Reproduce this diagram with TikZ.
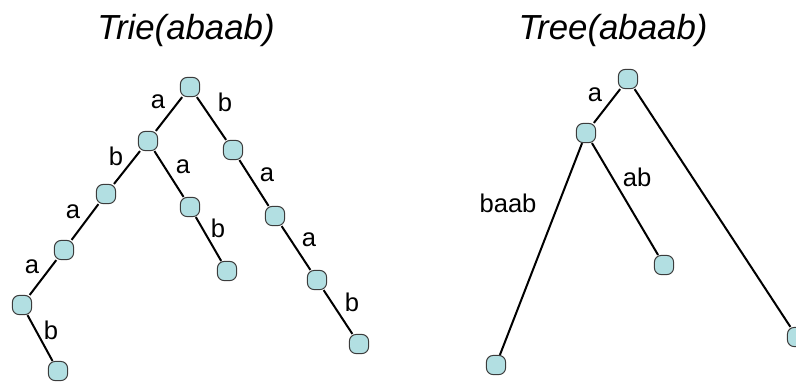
\documentclass[tikz,border=0pt]{standalone}
\usepackage{fontspec}
\setmainfont{Liberation Sans}
\usepackage{tikz}
\usetikzlibrary{positioning}
\definecolor{nodefill}{RGB}{178,223,226}
\definecolor{nodeline}{RGB}{60,60,60}

\begin{document}
\begin{tikzpicture}[
    x=0.5pt, y=-0.5pt,
    vtx/.style={draw=nodeline, fill=nodefill, line width=0.5pt, rounded corners=3.4pt, minimum size=9.6pt, inner sep=0pt},
    edge/.style={line width=1pt, black},
    lbl/.style={font=\fontsize{12.8}{14}\selectfont, inner sep=0pt},
    ttl/.style={font=\fontsize{17.4}{20}\selectfont\itshape, inner sep=0pt}
]
    \useasboundingbox (0,0) rectangle (796,388);

    % titles
    \node[ttl] (trie_title) at (186,30) {Trie(abaab)};
    \node[ttl] (tree_title) at (613,30) {Tree(abaab)};

    % trie
    \node[vtx] (t_root) at (190,87) {};
    \node[vtx] (t_a) at (148,141) {};
    \node[vtx] (t_b) at (233,150) {};
    \node[vtx] (t_ab) at (106,194) {};
    \node[vtx] (t_aa) at (190,207) {};
    \node[vtx] (t_ba) at (275,216) {};
    \node[vtx] (t_aba) at (64,250) {};
    \node[vtx] (t_aab) at (227,271) {};
    \node[vtx] (t_baa) at (317,280) {};
    \node[vtx] (t_abaa) at (22,305) {};
    \node[vtx] (t_baab) at (359,344) {};
    \node[vtx] (t_abaab) at (58,371) {};

    \draw[edge] (t_root) -- (t_a);
    \draw[edge] (t_root) -- (t_b);
    \draw[edge] (t_a) -- (t_ab);
    \draw[edge] (t_a) -- (t_aa);
    \draw[edge] (t_b) -- (t_ba);
    \draw[edge] (t_ab) -- (t_aba);
    \draw[edge] (t_aa) -- (t_aab);
    \draw[edge] (t_ba) -- (t_baa);
    \draw[edge] (t_aba) -- (t_abaa);
    \draw[edge] (t_baa) -- (t_baab);
    \draw[edge] (t_abaa) -- (t_abaab);

    \node[lbl] (l1) at (158,102) {a};
    \node[lbl] (l2) at (225,102) {b};
    \node[lbl] (l3) at (116,156) {b};
    \node[lbl] (l4) at (183,167) {a};
    \node[lbl] (l5) at (267,175) {a};
    \node[lbl] (l6) at (73,212) {a};
    \node[lbl] (l7) at (218,228) {b};
    \node[lbl] (l8) at (309,240) {a};
    \node[lbl] (l9) at (32,267) {a};
    \node[lbl] (l10) at (352,302) {b};
    \node[lbl] (l11) at (51,330) {b};

    % tree
    \node[vtx] (s_root) at (628,79) {};
    \node[vtx] (s_a) at (586,133) {};
    \node[vtx] (s_ab) at (664,265) {};
    \node[vtx] (s_baab) at (496,365) {};
    \node[vtx] (s_b) at (797,337) {};

    \draw[edge] (s_root) -- (s_a);
    \draw[edge] (s_root) -- (s_b);
    \draw[edge] (s_a) -- (s_ab);
    \draw[edge] (s_a) -- (s_baab);

    \node[lbl] (m1) at (595,95) {a};
    \node[lbl] (m2) at (637,177) {ab};
    \node[lbl] (m3) at (508,203) {baab};
\end{tikzpicture}
\end{document}
